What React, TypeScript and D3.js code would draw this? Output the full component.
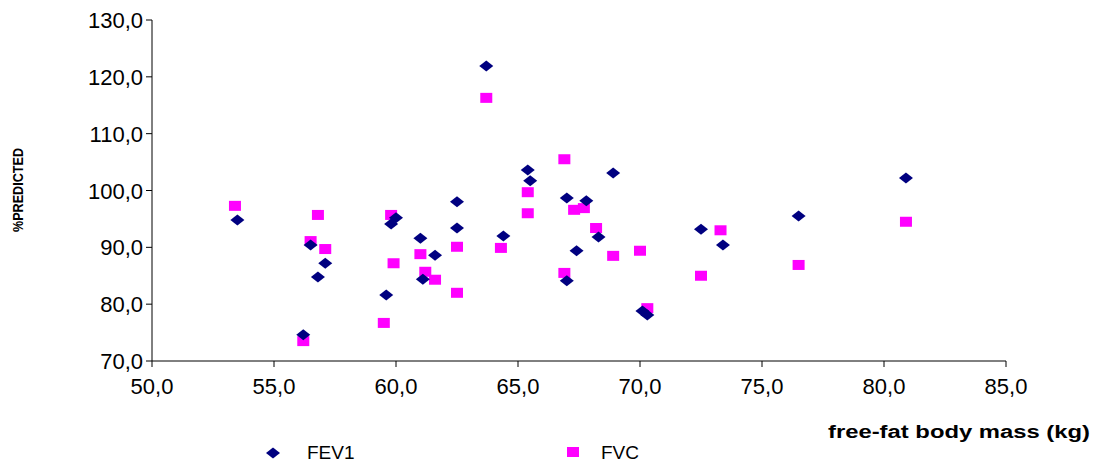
import * as d3 from "d3";

const fev1X = [53.5, 56.2, 56.5, 56.8, 57.1, 59.6, 59.8, 60.0, 61.0, 61.1, 61.6, 62.5, 62.5, 63.7, 64.4, 65.4, 65.5, 67.0, 67.0, 67.4, 67.8, 68.3, 68.9, 70.1, 70.3, 72.5, 73.4, 76.5, 80.9];
const fev1Y = [94.8, 74.6, 90.4, 84.8, 87.2, 81.6, 94.1, 95.2, 91.6, 84.4, 88.6, 98.0, 93.4, 121.9, 92.0, 103.6, 101.7, 98.7, 84.1, 89.4, 98.2, 91.8, 103.1, 78.8, 78.1, 93.2, 90.4, 95.5, 102.2];
const fvcX = [53.4, 56.2, 56.5, 56.8, 57.1, 59.5, 59.8, 59.9, 61.0, 61.2, 61.6, 62.5, 62.5, 63.7, 64.3, 65.4, 65.4, 66.9, 66.9, 67.3, 67.7, 68.2, 68.9, 70.0, 70.3, 72.5, 73.3, 76.5, 80.9];
const fvcY = [97.3, 73.5, 91.1, 95.7, 89.7, 76.7, 95.7, 87.2, 88.8, 85.7, 84.3, 90.1, 82.0, 116.3, 89.9, 99.7, 96.0, 105.5, 85.5, 96.6, 96.9, 93.4, 88.5, 89.4, 79.3, 85.0, 93.0, 86.9, 94.5];
const xTicks = [50, 55, 60, 65, 70, 75, 80, 85];
const yTicks = [70, 80, 90, 100, 110, 120, 130];

const fmt = (v: number) => v.toFixed(1).replace(".", ",");
const FONT = "Liberation Sans, Arial, sans-serif";

export default function App() {
  const x = d3.scaleLinear().domain([50, 85]).range([152, 1006]);
  const y = d3.scaleLinear().domain([70, 130]).range([361, 20]);
  const diamond = (cx: number, cy: number) => `M${cx},${cy - 5.5}L${cx + 7},${cy}L${cx},${cy + 5.5}L${cx - 7},${cy}Z`;
  return (
    <svg width={1119} height={462} style={{ position: "absolute", left: 0, top: 0 }} fontFamily={FONT}>
      <rect width={1119} height={462} fill="#fff" />
      <line x1={152} x2={152} y1={20} y2={361} stroke="#000" />
      <line x1={152} x2={1006} y1={361} y2={361} stroke="#000" />
      {yTicks.map((t) => (
        <g key={t}>
          <line x1={146} x2={152} y1={y(t)} y2={y(t)} stroke="#000" />
          <text x={143} y={y(t) + 8} textAnchor="end" fontSize={22}>{fmt(t)}</text>
        </g>
      ))}
      {xTicks.map((t) => (
        <g key={t}>
          <line x1={x(t)} x2={x(t)} y1={361} y2={367} stroke="#000" />
          <text x={x(t)} y={394} textAnchor="middle" fontSize={22}>{fmt(t)}</text>
        </g>
      ))}
      <text transform="translate(23,190) rotate(-90)" textAnchor="middle" fontSize={15} fontWeight="bold" textLength={84} lengthAdjust="spacingAndGlyphs">%PREDICTED</text>
      <text x={1090} y={438} textAnchor="end" fontSize={18} fontWeight="bold" textLength={262} lengthAdjust="spacingAndGlyphs">free-fat body mass (kg)</text>
      {fvcX.map((v, i) => (
        <rect key={"f" + i} x={x(v) - 6} y={y(fvcY[i]) - 5} width={12} height={10} fill="#ff00ff" />
      ))}
      {fev1X.map((v, i) => (
        <path key={"e" + i} d={diamond(x(v), y(fev1Y[i]))} fill="#000080" />
      ))}
      <path d={diamond(273, 453)} fill="#000080" />
      <text x={307} y={459} fontSize={19}>FEV1</text>
      <rect x={567} y={447} width={12} height={10} fill="#ff00ff" />
      <text x={601} y={459} fontSize={19}>FVC</text>
    </svg>
  );
}
